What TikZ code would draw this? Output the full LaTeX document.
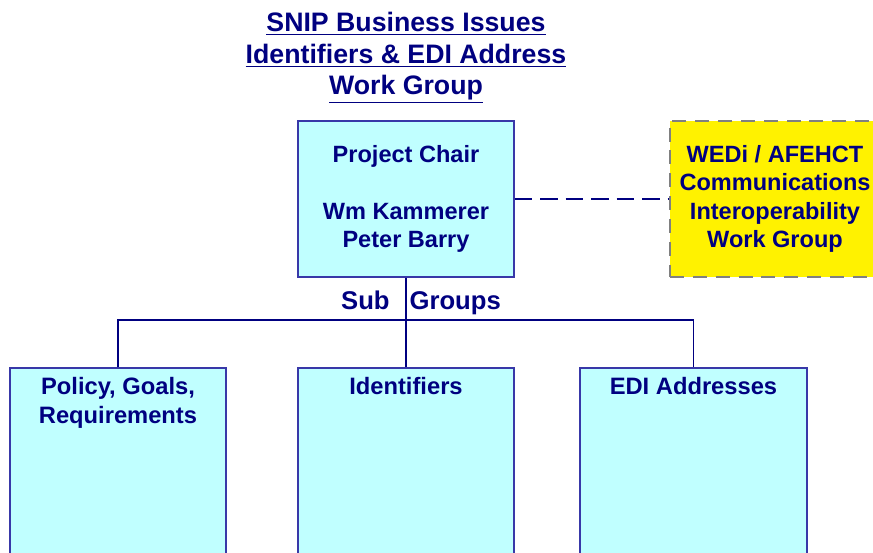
\documentclass[tikz,border=0pt]{standalone}
\usepackage{fontspec}
\setmainfont{Liberation Sans}
\definecolor{navy}{HTML}{000080}
\definecolor{boxfill}{HTML}{C0FFFF}
\definecolor{boxline}{HTML}{3838A8}
\begin{document}
\begin{tikzpicture}[x=0.02cm,y=-0.02cm,
	orgbox/.style={draw=boxline,line width=0.8pt,fill=boxfill,inner sep=0pt,
		font=\fontsize{13.4}{16.2}\selectfont\bfseries,text=navy,align=center},
	subtext/.style={anchor=north,yshift=-0.2cm,inner sep=0pt,
		font=\fontsize{13.5}{16.2}\selectfont\bfseries,text=navy,align=center},
	wedibox/.style={draw=gray,dash pattern=on 8pt off 5pt,line width=0.8pt,fill=yellow,inner sep=0pt},
	weditext/.style={anchor=center,xshift=-0.4cm,inner sep=0pt,
		font=\fontsize{13.4}{16.2}\selectfont\bfseries,text=navy,align=center},
	link/.style={draw=navy,line width=1pt}]
	\useasboundingbox (0,0) rectangle (873,552);
	\clip (0,0) rectangle (873,552);
	% title
	\node[font=\fontsize{15.2}{17.9}\selectfont\bfseries,text=navy,align=center] (title) at (406,58)
		{\underline{SNIP Business Issues}\\\underline{Identifiers \& EDI Address}\\\underline{Work Group}};
	% chair and liaison
	\node[orgbox,minimum width=4.32cm,minimum height=3.12cm] (chair) at (406,199)
		{Project Chair\\[16.2pt]Wm Kammerer\\Peter Barry};
	\node[wedibox,minimum width=5cm,minimum height=3.12cm,
		label={[weditext]center:{WEDi / AFEHCT\\Communications\\Interoperability\\Work Group}}] (wedi) at (795,199) {};
	\draw[link,dash pattern=on 10pt off 4.5pt] (chair.east) -- (wedi.west);
	% sub groups
	\node[font=\fontsize{14.6}{17}\selectfont\bfseries,text=navy] (subgroups) at (421,303) {Sub\hspace{0.4cm}Groups};
	\node[orgbox,minimum width=4.32cm,minimum height=4.64cm,
		label={[subtext]north:{Policy, Goals,\\Requirements}}] (policy) at (118,484) {};
	\node[orgbox,minimum width=4.32cm,minimum height=4.64cm,
		label={[subtext]north:Identifiers}] (ident) at (406,484) {};
	\node[orgbox,minimum width=4.54cm,minimum height=4.64cm,
		label={[subtext]north:EDI Addresses}] (edi) at (693.5,484) {};
	\coordinate (bus) at (406,320);
	\draw[link] (chair.south) -- (ident.north);
	\draw[link] (policy.north) |- (bus) -| (edi.north);
\end{tikzpicture}
\end{document}
